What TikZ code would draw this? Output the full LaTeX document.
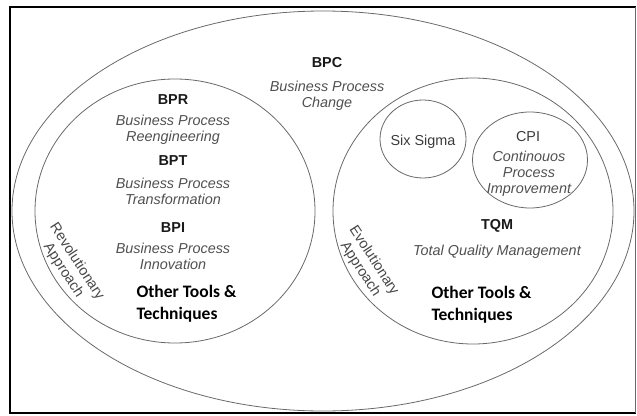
\documentclass[tikz,border=0pt]{standalone}
\usepackage{fontspec}
\setmainfont{Liberation Sans}
\newfontfamily\calibri{Carlito}
\usetikzlibrary{shapes.geometric}
\definecolor{linegray}{RGB}{105,105,105}
\definecolor{textgray}{RGB}{80,80,80}
\definecolor{labelblack}{RGB}{25,25,25}

\begin{document}
\begin{tikzpicture}[x=1pt,y=-1pt,
		ring/.style={draw=linegray,line width=0.8pt,ellipse,inner sep=0pt},
		abbr/.style={font=\fontsize{14.4}{16}\selectfont\bfseries,text=labelblack},
		plain/.style={font=\fontsize{14.4}{16}\selectfont,text=labelblack!85!white},
		longname/.style={font=\fontsize{14.4}{16}\selectfont\itshape,text=textgray,align=center},
		approach/.style={font=\fontsize{14.4}{16}\selectfont,text=labelblack!80!white,align=center,rotate=-57},
		tools/.style={font=\calibri\fontsize{17.5}{22}\selectfont\bfseries,text=black,align=left,anchor=west}]
			\useasboundingbox (0,0) rectangle (637,415);
			\draw[line width=1.6pt] (635.5,7) -- (10,7) -- (10,413) -- (635.5,413);
			\draw[linegray,line width=0.8pt] (635.5,7) -- (635.5,413);

			\node[ring,minimum width=622pt,minimum height=400pt] (bpcring) at (323,211) {};
			\node[ring,minimum width=280pt,minimum height=264pt] (revring) at (175,211) {};
			\node[ring,minimum width=280pt,minimum height=266pt] (evoring) at (473,211) {};
			\node[ring,minimum width=86pt,minimum height=78pt] (sixring) at (423,139) {};
			\node[ring,minimum width=115pt,minimum height=96pt] (cpiring) at (530,160) {};

			\node[abbr] (bpc) at (327,63) {BPC};
			\node[longname] (bpcname) at (327,96) {Business Process\\Change};

			\node[abbr] (bpr) at (173,100) {BPR};
			\node[longname] (bprname) at (173,130) {Business Process\\Reengineering};
			\node[abbr] (bpt) at (173,161) {BPT};
			\node[longname] (bptname) at (173,191.5) {Business Process\\Transformation};
			\node[abbr] (bpi) at (173,228) {BPI};
			\node[longname] (bpiname) at (173,256) {Business Process\\Innovation};
			\node[tools] (revtools) at (133,304) {Other Tools \&\\Techniques};
			\node[approach] (revo) at (70,266) {Revolutionary\\Approach};

			\node[plain] (six) at (423,142) {Six Sigma};
			\node[plain] (cpi) at (528,137) {CPI};
			\node[longname] (cpiname) at (529,174) {Continouos\\Process\\Improvement};
			\node[abbr] (tqm) at (497,226) {TQM};
			\node[longname] (tqmname) at (497,252) {Total Quality Management};
			\node[tools] (evotools) at (428,305) {Other Tools \&\\Techniques};
			\node[approach] (evo) at (367,265) {Evolutionary\\Approach};
		\end{tikzpicture}
\end{document}
